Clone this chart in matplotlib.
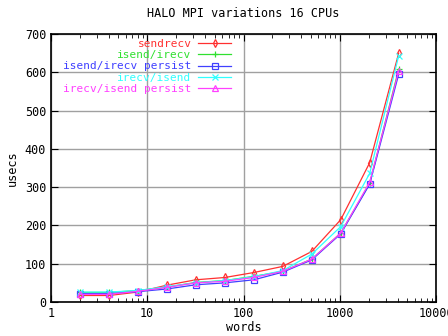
import matplotlib
matplotlib.use("Agg")
import matplotlib.pyplot as plt
from matplotlib.ticker import LogLocator, NullFormatter, FixedLocator

# message size in words
words = [2, 4, 8, 16, 32, 64, 128, 256, 512, 1024, 2048, 4096]

# timings in usecs
sendrecv = [17, 17, 26, 44, 58, 64, 77, 93, 132, 215, 364, 650]
isend_irecv = [25, 25, 30, 39, 51, 56, 67, 80, 112, 180, 310, 608]
isend_irecv_persist = [22, 22, 27, 34, 45, 50, 58, 78, 110, 178, 308, 595]
irecv_isend = [26, 26, 30, 40, 50, 56, 66, 82, 125, 197, 336, 643]
irecv_isend_persist = [20, 20, 28, 38, 50, 54, 64, 80, 112, 180, 313, 603]

series = [
    ("sendrecv", sendrecv, "#ff3030", "d"),
    ("isend/irecv", isend_irecv, "#30e030", "+"),
    ("isend/irecv persist", isend_irecv_persist, "#4040ff", "s"),
    ("irecv/isend", irecv_isend, "#30ffff", "x"),
    ("irecv/isend persist", irecv_isend_persist, "#ff40ff", "^"),
]

plt.rcParams["font.family"] = "DejaVu Sans Mono"
plt.rcParams["font.size"] = 8.5

fig = plt.figure(figsize=(4.48, 3.36), dpi=100)
ax = fig.add_axes([51/448, 34/336, 385/448, 268/336])

for name, vals, col, mk in series:
    ax.plot(words, vals, color=col, marker=mk, markersize=4, linewidth=0.9,
            markerfacecolor="none", markeredgewidth=0.9, label=name)

ax.set_xscale("log")
ax.set_xlim(1, 10000)
ax.set_ylim(0, 700)
ax.xaxis.set_major_locator(FixedLocator([1, 10, 100, 1000, 10000]))
ax.set_xticklabels(["1", "10", "100", "1000", "10000"])
ax.xaxis.set_minor_locator(LogLocator(base=10, subs=range(2, 10)))
ax.xaxis.set_minor_formatter(NullFormatter())
ax.set_yticks(range(0, 701, 100))
ax.grid(True, which="major", color="#a0a0a0", linewidth=1)
ax.tick_params(which="both", direction="in", top=True, right=True)
ax.tick_params(which="major", length=5)
ax.tick_params(which="minor", length=3)
for s in ax.spines.values():
    s.set_linewidth(1.2)

ax.set_title("HALO MPI variations 16 CPUs", fontsize=8.5, pad=12)
ax.set_xlabel("words", labelpad=1)
ax.set_ylabel("usecs")

leg = ax.legend(loc="upper left", frameon=False, markerfirst=False,
                labelcolor="linecolor", handlelength=3.0, handletextpad=0.6,
                labelspacing=0.1, borderaxespad=0.0, fontsize=8,
                bbox_to_anchor=(0.02, 0.997))
leg._legend_handle_box.get_children()[0].align = "right"

fig.savefig("out.png", dpi=100)
